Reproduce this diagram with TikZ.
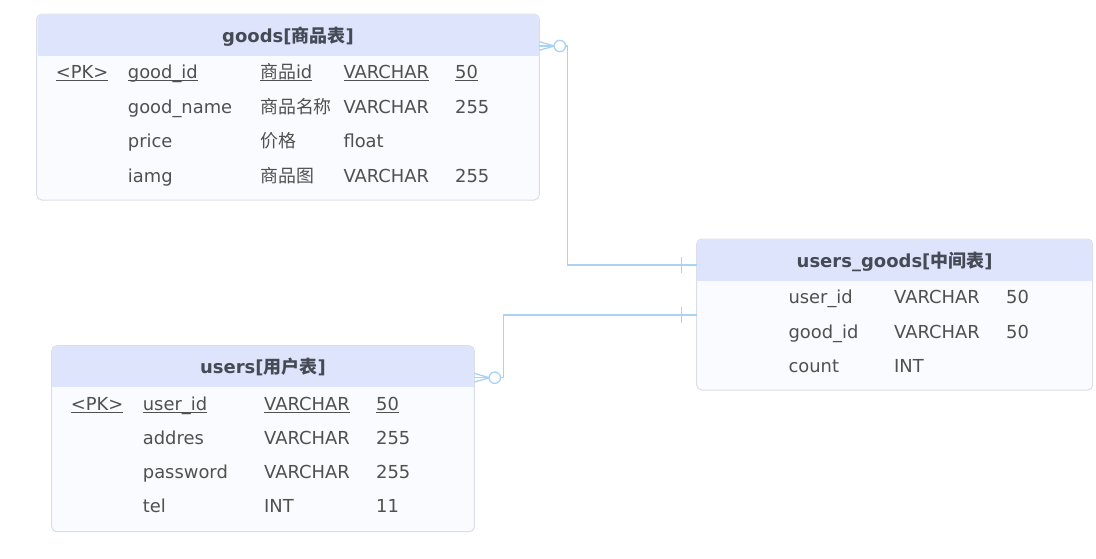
\documentclass[tikz,border=0pt]{standalone}
\usepackage{fontspec}
\setmainfont{DejaVu Sans}
\newfontfamily\cjk{Noto Sans CJK SC}
\newcommand\zh[1]{{\cjk #1}}
\newcommand\ulx[1]{\setbox0\hbox{#1}\rlap{\rule[-2.3pt]{\wd0}{0.9pt}}\box0}
\definecolor{headcol}{HTML}{DDE4FC}
\definecolor{bodycol}{HTML}{FAFBFE}
\definecolor{bordercol}{HTML}{D9DEE8}
\definecolor{linkcol}{HTML}{A9D3F5}
\definecolor{txtcol}{HTML}{505050}
\definecolor{headtxt}{HTML}{454A55}
\tikzset{
  tablebox/.style={draw=bordercol, fill=bodycol, rounded corners=5pt, line width=1pt, inner sep=0pt, outer sep=0pt},
  cell/.style={anchor=base west, inner sep=0pt, text=txtcol, font=\fontsize{17.9}{20}\selectfont},
  title/.style={anchor=base, inner sep=0pt, text=headtxt, font=\fontsize{18}{20}\selectfont\bfseries},
  link/.style={draw=linkcol, line width=1.3pt},
}
\begin{document}
\begin{tikzpicture}[x=1pt,y=-1pt]
\useasboundingbox (0,0) rectangle (1096,558);
% ---------- goods ----------
\node[tablebox, minimum width=502.6pt, minimum height=186pt] (goods) at (288,107) {};
\fill[headcol, rounded corners=5pt] (37.5,14.5) rectangle (538.8,55.7);
\fill[headcol] (37.5,40) rectangle (538.8,55.7);
\node[title] (goodsT) at (288,42.7) {goods[\zh{商品表}]};
\node[cell] (g11) at (55.7,78.3) {\ulx{<PK>}};
\node[cell] (g12) at (127.7,78.3) {\ulx{good\_id}};
\node[cell] (g13) at (260,78.3) {\ulx{\zh{商品}id}};
\node[cell] (g14) at (343.3,78.3) {\ulx{VARCHAR}};
\node[cell] (g15) at (455,78.3) {\ulx{50}};
\node[cell] (g22) at (127.7,113) {good\_name};
\node[cell] (g23) at (260,113) {\zh{商品名称}};
\node[cell] (g24) at (343.3,113) {VARCHAR};
\node[cell] (g25) at (455,113) {255};
\node[cell] (g32) at (127.7,147.7) {price};
\node[cell] (g33) at (260,147.7) {\zh{价格}};
\node[cell] (g34) at (343.3,147.7) {float};
\node[cell] (g42) at (127.7,182.3) {iamg};
\node[cell] (g43) at (260,182.3) {\zh{商品图}};
\node[cell] (g44) at (343.3,182.3) {VARCHAR};
\node[cell] (g45) at (455,182.3) {255};
% ---------- users_goods ----------
\node[tablebox, minimum width=396pt, minimum height=151pt] (ug) at (894.7,314.5) {};
\fill[headcol, rounded corners=5pt] (697.2,239.5) rectangle (1092.2,280.7);
\fill[headcol] (697.2,265) rectangle (1092.2,280.7);
\node[title] (ugT) at (894.7,267.3) {users\_goods[\zh{中间表}]};
\node[cell] (u12) at (788.3,303.3) {user\_id};
\node[cell] (u13) at (894,303.3) {VARCHAR};
\node[cell] (u14) at (1006,303.3) {50};
\node[cell] (u22) at (788.3,338.3) {good\_id};
\node[cell] (u23) at (894,338.3) {VARCHAR};
\node[cell] (u24) at (1006,338.3) {50};
\node[cell] (u32) at (788.3,372.3) {count};
\node[cell] (u33) at (894,372.3) {INT};
% ---------- users ----------
\node[tablebox, minimum width=422.6pt, minimum height=186pt] (users) at (263,438.7) {};
\fill[headcol, rounded corners=5pt] (52.2,346.2) rectangle (473.8,386.7);
\fill[headcol] (52.2,370) rectangle (473.8,386.7);
\node[title] (usersT) at (263,373.3) {users[\zh{用户表}]};
\node[cell] (s11) at (70.7,410.7) {\ulx{<PK>}};
\node[cell] (s12) at (142.7,410.7) {\ulx{user\_id}};
\node[cell] (s13) at (264,410.7) {\ulx{VARCHAR}};
\node[cell] (s14) at (376,410.7) {\ulx{50}};
\node[cell] (s22) at (142.7,444) {addres};
\node[cell] (s23) at (264,444) {VARCHAR};
\node[cell] (s24) at (376,444) {255};
\node[cell] (s32) at (142.7,478.3) {password};
\node[cell] (s33) at (264,478.3) {VARCHAR};
\node[cell] (s34) at (376,478.3) {255};
\node[cell] (s42) at (142.7,512.3) {tel};
\node[cell] (s43) at (264,512.3) {INT};
\node[cell] (s44) at (376,512.3) {11};
% ---------- connector goods -> users_goods ----------
\coordinate (a0) at ([yshift=-32pt]goods.north east);
\coordinate (a1) at ([yshift=-26pt]ug.north west);
\draw[link] (a0) -- ++(15,0);
\draw[link] ([yshift=4.3pt]a0) -- ++(15,4.3);
\draw[link] ([yshift=-4.3pt]a0) -- ++(15,-4.3);
\draw[link, fill=white] ([xshift=20.5pt]a0) circle (5.7pt);
\draw[link] ([xshift=26.2pt]a0) -- ++(2,0) |- (a1);
\draw[link] ([xshift=-15pt,yshift=8pt]a1) -- ++(0,16);
% ---------- connector users -> users_goods ----------
\coordinate (b0) at ([yshift=-32pt]users.north east);
\coordinate (b1) at ([yshift=-76pt]ug.north west);
\draw[link] (b0) -- ++(15,0);
\draw[link] ([yshift=4.3pt]b0) -- ++(15,4.3);
\draw[link] ([yshift=-4.3pt]b0) -- ++(15,-4.3);
\draw[link, fill=white] ([xshift=20.5pt]b0) circle (5.7pt);
\draw[link] ([xshift=26.2pt]b0) -- ++(3,0) |- (b1);
\draw[link] ([xshift=-15pt,yshift=8pt]b1) -- ++(0,16);
\end{tikzpicture}
\end{document}
